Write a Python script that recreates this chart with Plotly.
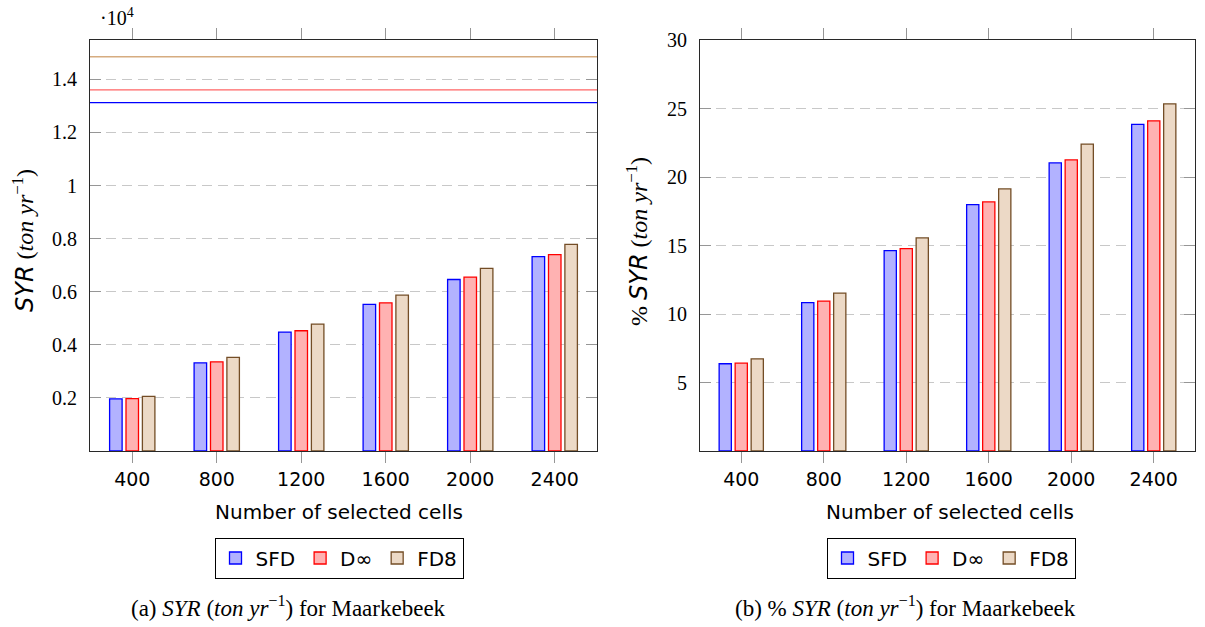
import plotly.graph_objects as go

categories = ["400", "800", "1200", "1600", "2000", "2400"]
series_names = ["SFD", "D∞", "FD8"]

# Left panel: SYR (ton/yr), in units of 10^4
syr_sfd = [0.196, 0.332, 0.448, 0.552, 0.646, 0.732]
syr_dinf = [0.197, 0.336, 0.453, 0.558, 0.655, 0.740]
syr_fd8 = [0.206, 0.353, 0.478, 0.587, 0.688, 0.778]
syr_totals = [1.312, 1.360, 1.485]  # horizontal reference lines (SFD, D∞, FD8)

# Right panel: % SYR
pct_sfd = [6.37, 10.83, 14.63, 17.99, 21.03, 23.84]
pct_dinf = [6.41, 10.94, 14.77, 18.18, 21.25, 24.10]
pct_fd8 = [6.73, 11.53, 15.55, 19.13, 22.40, 25.34]

left_yticks = [0.2, 0.4, 0.6, 0.8, 1.0, 1.2, 1.4]
left_yticklabels = ["0.2", "0.4", "0.6", "0.8", "1", "1.2", "1.4"]
right_yticks = [5, 10, 15, 20, 25, 30]

line_colors = ["rgb(0,0,255)", "rgb(255,0,0)", "rgb(115,77,38)"]
fill_colors = ["rgb(178,178,255)", "rgb(255,178,178)", "rgb(236,217,198)"]
hline_colors = ["rgb(0,0,255)", "rgb(255,100,100)", "rgb(214,172,128)"]

W, H = 1205, 627
def px(x):
    return x / W
def py(y):
    return 1 - y / H

xs = list(range(len(categories)))
bw = 0.148
centers = [-0.194, 0.0, 0.194]

fig = go.Figure()

left_data = [syr_sfd, syr_dinf, syr_fd8]
right_data = [pct_sfd, pct_dinf, pct_fd8]

for i, name in enumerate(series_names):
    fig.add_trace(go.Bar(
        x=xs, y=left_data[i], name=name, width=bw, offset=centers[i] - bw / 2,
        marker=dict(color=fill_colors[i], line=dict(color=line_colors[i], width=1.3)),
        xaxis="x", yaxis="y", legend="legend"))
for i, name in enumerate(series_names):
    fig.add_trace(go.Bar(
        x=xs, y=right_data[i], name=name, width=bw, offset=centers[i] - bw / 2,
        marker=dict(color=fill_colors[i], line=dict(color=line_colors[i], width=1.3)),
        xaxis="x2", yaxis="y2", legend="legend2"))

for val, col in zip(syr_totals, hline_colors):
    fig.add_shape(type="line", xref="x domain", yref="y", x0=0, x1=1, y0=val, y1=val,
                  line=dict(color=col, width=1.4), layer="above")

serif = "Liberation Serif"
sans = "DejaVu Sans"

xaxis_common = dict(
    range=[-0.5, 5.5], tickvals=xs, ticktext=categories,
    ticks="outside", ticklen=11, tickcolor="rgb(150,150,150)", tickwidth=1,
    showline=True, linecolor="rgb(40,40,40)", linewidth=1, mirror="ticks",
    showgrid=False, zeroline=False, automargin=False,
    tickfont=dict(family=sans, size=19, color="black"), fixedrange=True,
)
yaxis_common = dict(
    ticks="inside", ticklen=11, tickcolor="rgb(150,150,150)", tickwidth=1,
    showline=True, linecolor="rgb(40,40,40)", linewidth=1, mirror="ticks",
    showgrid=True, gridcolor="rgb(200,200,200)", griddash="10px,6px", gridwidth=1,
    zeroline=False, automargin=False, fixedrange=True,
    tickfont=dict(family=serif, size=20, color="black"),
    ticklabelstandoff=8,
)

L_X0, L_X1 = 90, 597
R_X0, R_X1 = 700, 1195
Y_TOP, Y_BOT = 40, 451

fig.update_layout(
    width=W, height=H, margin=dict(l=0, r=0, t=0, b=0, pad=0, autoexpand=False),
    paper_bgcolor="white", plot_bgcolor="white",
    barmode="overlay", showlegend=True,
    xaxis=dict(domain=[px(L_X0), px(L_X1)], anchor="y", **xaxis_common),
    yaxis=dict(domain=[py(Y_BOT), py(Y_TOP)], anchor="x", range=[0, 1.548],
               tickvals=left_yticks, ticktext=left_yticklabels, **yaxis_common),
    xaxis2=dict(domain=[px(R_X0), px(R_X1)], anchor="y2", **xaxis_common),
    yaxis2=dict(domain=[py(Y_BOT), py(Y_TOP)], anchor="x2", range=[0, 30],
                tickvals=right_yticks, **yaxis_common),
    legend=dict(orientation="h", x=px(339), y=py(558), xanchor="center", yanchor="middle",
                bordercolor="black", borderwidth=1, bgcolor="white",
                font=dict(family=sans, size=20, color="black"), itemwidth=30,
                tracegroupgap=0),
    legend2=dict(orientation="h", x=px(951), y=py(558), xanchor="center", yanchor="middle",
                 bordercolor="black", borderwidth=1, bgcolor="white",
                 font=dict(family=sans, size=20, color="black"), itemwidth=30,
                 tracegroupgap=0),
)

def ann(text, x, y, size, family, angle=0):
    return dict(text=text, x=px(x), y=py(y), xref="paper", yref="paper",
                xanchor="center", yanchor="middle", showarrow=False, textangle=angle,
                font=dict(family=family, size=size, color="black"))

annotations = [
    ann("·10<sup>4</sup>", 117, 17, 20, serif),
    ann(f'<span style="font-family:{sans}"><i>SYR</i></span> (<i>ton yr</i><sup>−1</sup>)',
        23, 241, 24, serif, -90),
    ann(f'% <span style="font-family:{sans}"><i>SYR</i></span> (<i>ton yr</i><sup>−1</sup>)',
        637, 242, 24, serif, -90),
    ann("Number of selected cells", 339, 512, 20, sans),
    ann("Number of selected cells", 950, 512, 20, sans),
    ann("(a) <i>SYR</i> (<i>ton yr</i><sup>−1</sup>) for Maarkebeek", 288, 606, 23, serif),
    ann("(b) % <i>SYR</i> (<i>ton yr</i><sup>−1</sup>) for Maarkebeek", 905, 606, 23, serif),
]
fig.update_layout(annotations=annotations)

fig.write_html("out.html", config={"displayModeBar": False},
               post_script="document.body.style.margin='0px';")
